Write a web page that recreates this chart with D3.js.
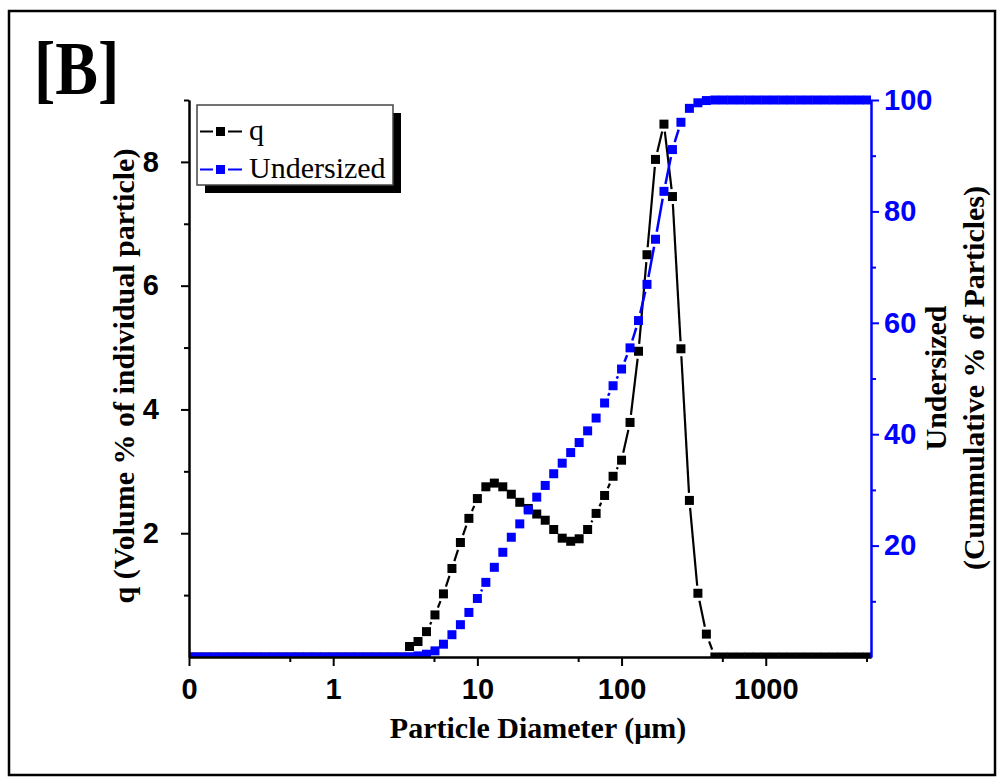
<!DOCTYPE html>
<html>
<head>
<meta charset="utf-8">
<script src="https://cdn.jsdelivr.net/npm/d3@7"></script>
<style>
  body { margin: 0; background: #fff; }
  svg { display: block; }
</style>
</head>
<body>
<div id="chart"></div>
<script>
// particle size bins (um), 17 per decade
var sizes = [
  0.1, 0.1145, 0.1311, 0.1501, 0.1719, 0.1968, 0.2254, 0.2581, 0.2955, 0.3384, 0.3875, 0.4437, 0.5080, 0.5817, 0.6661, 0.7627, 0.8733,
  1, 1.145, 1.311, 1.501, 1.719, 1.968, 2.254, 2.581, 2.955, 3.384, 3.875, 4.437, 5.080, 5.817, 6.661, 7.627, 8.733,
  10, 11.45, 13.11, 15.01, 17.19, 19.68, 22.54, 25.81, 29.55, 33.84, 38.75, 44.37, 50.80, 58.17, 66.61, 76.27, 87.33,
  100, 114.5, 131.1, 150.1, 171.9, 196.8, 225.4, 258.1, 295.5, 338.4, 387.5, 443.7, 508.0, 581.7, 666.1, 762.7, 873.3,
  1000, 1145, 1311, 1501, 1719, 1968, 2254, 2581, 2955, 3384, 3875, 4437, 5080
];

// q (volume % of individual particle)
var qValues = [
  0, 0, 0, 0, 0, 0, 0, 0, 0, 0, 0, 0, 0, 0, 0, 0, 0,
  0, 0, 0, 0, 0, 0, 0, 0, 0, 0.17, 0.25, 0.41, 0.68, 1.02, 1.43, 1.85, 2.24,
  2.56, 2.75, 2.81, 2.75, 2.63, 2.50, 2.40, 2.31, 2.21, 2.06, 1.92, 1.87, 1.91, 2.06, 2.32, 2.61, 2.92,
  3.18, 3.79, 4.94, 6.50, 8.04, 8.61, 7.44, 4.98, 2.53, 1.03, 0.37, 0, 0, 0, 0, 0, 0,
  0, 0, 0, 0, 0, 0, 0, 0, 0, 0, 0, 0, 0
];

// undersized (cumulative % of particles)
var undersized = [
  0, 0, 0, 0, 0, 0, 0, 0, 0, 0, 0, 0, 0, 0, 0, 0, 0,
  0, 0, 0, 0, 0, 0, 0, 0, 0, 0.05, 0.2, 0.5, 1.1, 2.3, 4.0, 5.8, 8.0,
  10.5, 13.4, 16.1, 18.8, 21.5, 23.9, 26.4, 28.7, 30.8, 32.9, 34.8, 36.7, 38.5, 40.6, 42.9, 45.6, 48.7,
  51.7, 55.5, 60.4, 66.9, 75.0, 83.6, 91.1, 96.0, 98.5, 99.5, 99.9, 100, 100, 100, 100, 100, 100,
  100, 100, 100, 100, 100, 100, 100, 100, 100, 100, 100, 100, 100
];

var seriesNames = ["q", "Undersized"];
var xTicks = [0.1, 1, 10, 100, 1000];
var xTickLabels = ["0", "1", "10", "100", "1000"];
var xMinor = [0.5, 5, 50, 500, 5000];
var qTicks = [2, 4, 6, 8];
var qMinor = [1, 3, 5, 7, 9];
var uTicks = [20, 40, 60, 80, 100];
var uMinor = [10, 30, 50, 70, 90];

function drawChart() {
  var w = 1000, h = 783;
  var pLeft = 189, pRight = 871, pTop = 100, pBottom = 657;
  var blue = "#0000ff";
  var sans = "'Liberation Sans', Arial, sans-serif";
  var serif = "'Liberation Serif', 'Times New Roman', serif";

  var svg = d3.select("#chart").append("svg")
    .attr("width", w)
    .attr("height", h);

  // outer frame
  svg.append("rect")
    .attr("x", 9).attr("y", 11)
    .attr("width", 986).attr("height", 764)
    .attr("fill", "none")
    .attr("stroke", "#000")
    .attr("stroke-width", 2.5);

  // panel label, a bit taller than wide like the original
  svg.append("text")
    .attr("transform", "translate(34,94) scale(1,1.2)")
    .style("font-family", serif)
    .style("font-weight", "bold")
    .style("font-size", "64px")
    .text("[B]");

  // scales
  var x = d3.scaleLog().domain([0.1, 5370]).range([pLeft, pRight]);
  var yq = d3.scaleLinear().domain([0, 9]).range([pBottom, pTop]);
  var yu = d3.scaleLinear().domain([0, 100]).range([pBottom, pTop]);

  // clip to plot area (a bit of room on top for the 100% plateau)
  svg.append("defs").append("clipPath").attr("id", "plotclip")
    .append("rect")
    .attr("x", pLeft).attr("y", pTop - 6)
    .attr("width", pRight - pLeft).attr("height", pBottom - pTop + 6);

  var sym = 9, gap = 3;

  // line segments that stop short of each symbol
  function segments(vals, yScale) {
    var out = [];
    for (var i = 0; i < vals.length - 1; i++) {
      var x1 = x(sizes[i]), y1 = yScale(vals[i]);
      var x2 = x(sizes[i + 1]), y2 = yScale(vals[i + 1]);
      var dx = x2 - x1, dy = y2 - y1;
      var L = Math.sqrt(dx * dx + dy * dy);
      var ux = dx / L, uy = dy / L;
      var cut = (sym / 2) / Math.max(Math.abs(ux), Math.abs(uy)) + gap;
      if (L > 2 * cut + 1) {
        out.push([x1 + ux * cut, y1 + uy * cut, x2 - ux * cut, y2 - uy * cut]);
      }
    }
    return out;
  }

  var plot = svg.append("g").attr("clip-path", "url(#plotclip)");

  function drawSeries(vals, yScale, color, lw) {
    plot.append("g").selectAll("line")
      .data(segments(vals, yScale))
      .enter().append("line")
      .attr("x1", function(d) { return d[0]; })
      .attr("y1", function(d) { return d[1]; })
      .attr("x2", function(d) { return d[2]; })
      .attr("y2", function(d) { return d[3]; })
      .attr("stroke", color)
      .attr("stroke-width", lw);
    plot.append("g").selectAll("rect")
      .data(vals)
      .enter().append("rect")
      .attr("x", function(d, i) { return x(sizes[i]) - sym / 2; })
      .attr("y", function(d) { return yScale(d) - sym / 2; })
      .attr("width", sym)
      .attr("height", sym)
      .attr("fill", color);
  }

  drawSeries(qValues, yq, "#000", 2.2);
  drawSeries(undersized, yu, blue, 2.5);

  // axes
  function styleAxis(g, color) {
    g.attr("font-family", null).attr("font-size", null);
    g.select(".domain").attr("stroke", color).attr("stroke-width", 2);
    g.selectAll(".tick line").attr("stroke", color).attr("stroke-width", 2);
    g.selectAll(".tick text")
      .attr("fill", color)
      .style("font-family", sans)
      .style("font-weight", "bold")
      .style("font-size", "29px");
  }

  var xAxis = svg.append("g")
    .attr("transform", "translate(0," + pBottom + ")")
    .call(d3.axisBottom(x).tickValues(xTicks)
      .tickFormat(function(d, i) { return xTickLabels[i]; })
      .tickSize(9).tickSizeOuter(0).tickPadding(12));
  styleAxis(xAxis, "#000");
  var xAxisMinor = svg.append("g")
    .attr("transform", "translate(0," + pBottom + ")")
    .call(d3.axisBottom(x).tickValues(xMinor).tickFormat("").tickSize(5).tickSizeOuter(0));
  styleAxis(xAxisMinor, "#000");

  var qAxis = svg.append("g")
    .attr("transform", "translate(" + pLeft + ",0)")
    .call(d3.axisLeft(yq).tickValues(qTicks).tickSize(8).tickSizeOuter(0).tickPadding(22));
  styleAxis(qAxis, "#000");
  var qAxisMinor = svg.append("g")
    .attr("transform", "translate(" + pLeft + ",0)")
    .call(d3.axisLeft(yq).tickValues(qMinor).tickFormat("").tickSize(5).tickSizeOuter(0));
  styleAxis(qAxisMinor, "#000");

  var uAxis = svg.append("g")
    .attr("transform", "translate(" + pRight + ",0)")
    .call(d3.axisRight(yu).tickValues(uTicks).tickSize(8).tickSizeOuter(0).tickPadding(5));
  styleAxis(uAxis, blue);
  var uAxisMinor = svg.append("g")
    .attr("transform", "translate(" + pRight + ",0)")
    .call(d3.axisRight(yu).tickValues(uMinor).tickFormat("").tickSize(5).tickSizeOuter(0));
  styleAxis(uAxisMinor, blue);

  // axis titles
  function title(tr, str) {
    svg.append("text")
      .attr("transform", tr)
      .attr("text-anchor", "middle")
      .style("font-family", serif)
      .style("font-weight", "bold")
      .style("font-size", "30px")
      .text(str);
  }
  title("translate(" + ((pLeft + pRight) / 2 + 8) + ",738)", "Particle Diameter (\u03bcm)");
  title("translate(134,376) rotate(-90)", "q (Volume % of individual particle)");
  title("translate(946,378) rotate(-90)", "Undersized");
  title("translate(984,378) rotate(-90)", "(Cummulative % of Particles)");

  // legend with drop shadow
  var lg = svg.append("g");
  lg.append("rect")
    .attr("x", 205).attr("y", 113).attr("width", 196).attr("height", 80)
    .attr("fill", "#000");
  lg.append("rect")
    .attr("x", 197).attr("y", 105).attr("width", 196).attr("height", 80)
    .attr("fill", "#fff").attr("stroke", "#444").attr("stroke-width", 1.5);

  var legendColors = ["#000", blue];
  var legendY = [131.5, 169.5];
  seriesNames.forEach(function(name, i) {
    var cy = legendY[i], cx = 220.5;
    lg.append("line").attr("x1", 200).attr("x2", cx - sym / 2 - gap)
      .attr("y1", cy).attr("y2", cy)
      .attr("stroke", legendColors[i]).attr("stroke-width", 2);
    lg.append("line").attr("x1", cx + sym / 2 + gap).attr("x2", 242)
      .attr("y1", cy).attr("y2", cy)
      .attr("stroke", legendColors[i]).attr("stroke-width", 2);
    lg.append("rect")
      .attr("x", cx - sym / 2).attr("y", cy - sym / 2)
      .attr("width", sym).attr("height", sym)
      .attr("fill", legendColors[i]);
    lg.append("text")
      .attr("x", 249).attr("y", cy + 8)
      .style("font-family", serif)
      .style("font-size", "30px")
      .text(name);
  });
}

drawChart();
</script>
</body>
</html>
